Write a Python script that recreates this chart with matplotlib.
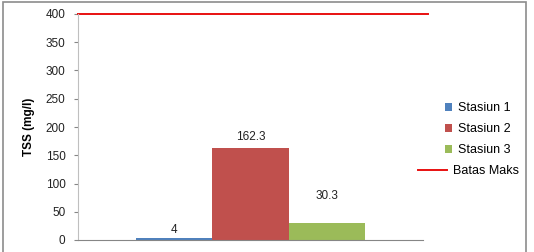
import matplotlib.pyplot as plt
from matplotlib.patches import Rectangle

# data
stations = ["Stasiun 1", "Stasiun 2", "Stasiun 3"]
tss = [4, 162.3, 30.3]
labels = ["4", "162.3", "30.3"]
batas_maks = 400
colors = ["#4F81BD", "#C0504D", "#9BBB59"]

plt.rcParams['font.family'] = ['Liberation Sans', 'DejaVu Sans']

fig = plt.figure(figsize=(5.34, 2.52), dpi=100)
ax = fig.add_axes([78/534, 12/252, 345/534, 226/252])

# outer chart border
fig.patches.append(Rectangle((3/534, -0.05), 523/534, 1.05 - 2/252,
                             transform=fig.transFigure, fill=False,
                             edgecolor="#8C8C8C", linewidth=1.2))

w = 0.222
offsets = [1.5, 4, 15]  # label offset above bar (points)
bars = []
for i, (name, v, lab, c) in enumerate(zip(stations, tss, labels, colors)):
    x = (i - 1) * w
    b = ax.bar(x, v, width=w, color=c, label=name)
    bars.append(b)
    ax.annotate(lab, (x, v), xytext=(0, offsets[i]), textcoords="offset points",
                ha="center", va="bottom", fontsize=8.5, color="#222222")

line, = ax.plot([-0.5, 0.515], [batas_maks, batas_maks], color="#E81010",
                linewidth=1.4, clip_on=False, label="Batas Maks")

ax.set_xlim(-0.5, 0.5)
ax.set_ylim(0, 400)
ax.set_yticks(range(0, 401, 50))
ax.set_xticks([])
ax.tick_params(axis="y", labelsize=8.5, length=3, color="#868686",
               labelcolor="#222222", pad=6)
for s in ["top", "right"]:
    ax.spines[s].set_visible(False)
ax.spines["left"].set_color("#BFBFBF")
ax.spines["bottom"].set_color("#868686")
ax.set_ylabel("TSS (mg/l)", fontsize=8.5, fontweight="bold", labelpad=8)

leg1 = fig.legend(bars, stations, loc="upper left",
                  bbox_to_anchor=(439/534, 1 - 96/252), frameon=False,
                  fontsize=9, handlelength=0.55, handleheight=0.55,
                  handletextpad=0.45, labelspacing=0.72, borderpad=0)
leg2 = fig.legend([line], ["Batas Maks"], loc="upper left",
                  bbox_to_anchor=(412/534, 1 - 159/252), frameon=False,
                  fontsize=9, handlelength=2.3, handletextpad=0.45,
                  borderpad=0)

fig.savefig("out.png", dpi=100)
